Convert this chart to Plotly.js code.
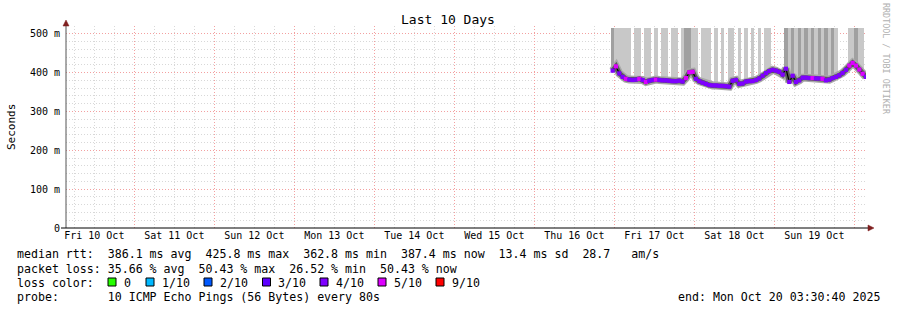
<!DOCTYPE html>
<html>
<head>
<meta charset="utf-8">
<script src="https://cdn.plot.ly/plotly-3.0.1.min.js"></script>
<style>html,body{margin:0;padding:0;background:#fff}#chart{width:897px;height:310px}</style>
</head>
<body>
<div id="chart"></div>
<script>
// ---- data (hourly samples, starting 2025-10-16 23:30) ----
const sampleStart = '2025-10-16T23:30:00';
const medianRtt = [405,416,398,389,384,382,381,382,384,381,376,379,381,382,381,380,380,379,378,378,
  379,377,386,401,402,384,378,374,371,368,367,367,366,366,365,364,379,381,371,372,
  377,378,378,381,385,392,399,404,407,405,402,395,410,376,392,376,380,387,387,386,
  386,385,385,384,380,382,386,389,393,399,407,418,425,418,408,397,389];
const lossTenths = [4,5,4,4,5,4,4,4,5,4,5,4,4,5,4,4,4,4,4,4,
  4,4,5,5,5,4,4,4,4,4,4,4,4,4,4,4,4,4,4,4,
  4,4,4,4,4,4,4,4,4,4,4,4,4,4,4,4,4,4,4,4,
  5,4,4,5,4,4,4,4,4,4,4,5,5,5,5,5,4];
// 0 = no high pings, 1 = one high ping (light smoke to top), 2 = several (dark smoke to top)
const highSmoke = [2,1,1,1,1,1,0,1,1,0,1,1,0,1,0,1,1,0,1,1,
  0,1,2,2,1,1,0,1,1,1,0,1,0,1,0,1,1,0,1,0,
  1,0,1,0,1,0,1,1,0,0,0,0,2,1,2,1,2,1,2,1,
  2,1,2,1,2,1,2,1,0,0,0,1,1,2,1,1,0];
const smokeTop = 516;
const yTickVals = [0,100,200,300,400,500];
const yTickText = ['0','100 m','200 m','300 m','400 m','500 m'];
const lossLabels = ['0','1/10','2/10','3/10','4/10','5/10','9/10'];
const lossColors = ['#26ff00','#00b8ff','#0059ff','#5e00ff','#7e00ff','#dd00ff','#ff0000'];
const statLines = [
  'median rtt:  386.1 ms avg  425.8 ms max  362.8 ms min  387.4 ms now  13.4 ms sd  28.7   am/s',
  'packet loss: 35.66 % avg  50.43 % max  26.52 % min  50.43 % now'
];
const probeText = 'probe:       10 ICMP Echo Pings (56 Bytes) every 80s';
const endText = 'end: Mon Oct 20 03:30:40 2025';

// ---- build ----
const HOUR = 3600000;
const t0 = new Date(sampleStart + 'Z').getTime();
const times = medianRtt.map((_, i) => new Date(t0 + i * HOUR).toISOString().slice(0, 19).replace('T', ' '));
function colorForLoss(l) {
  if (l <= 0) return lossColors[0];
  if (l <= 5) return lossColors[l];
  return lossColors[6];
}
const markerColors = lossTenths.map(colorForLoss);
const lightY = medianRtt.map((m, i) => highSmoke[i] >= 1 ? smokeTop - m : null);
const darkY = medianRtt.map((m, i) => highSmoke[i] >= 2 ? smokeTop - m : null);

const L = 66, R = 866, T = 26, B = 228;
const PX = x => (x - L) / (R - L);
const PY = y => (B - y) / (B - T);
const mono = 'DejaVu Sans Mono, monospace';

const traces = [
  {type:'bar', x:times, y:lightY, base:medianRtt, width:HOUR, marker:{color:'#c8c8c8', line:{width:0}}, hoverinfo:'skip'},
  {type:'bar', x:times, y:darkY, base:medianRtt, width:HOUR, marker:{color:'#a0a0a0', line:{width:0}}, hoverinfo:'skip'},
  {type:'scatter', mode:'lines', x:times, y:medianRtt, line:{color:'#a8a8a8', width:8}, hoverinfo:'skip'},
  {type:'scatter', mode:'lines', x:times, y:medianRtt, line:{color:'#5a5a5a', width:5}, hoverinfo:'skip'},
  {type:'scatter', mode:'lines', x:times, y:medianRtt, line:{color:'#000000', width:1.2}, hoverinfo:'skip'},
  {type:'scatter', mode:'markers', x:times, y:medianRtt, marker:{symbol:'square', size:4.2, color:markerColors, line:{width:0}}, hoverinfo:'skip'}
];

const ann = [];
function txt(text, x, y, opts) {
  ann.push(Object.assign({text:text, x:PX(x), y:PY(y), xref:'paper', yref:'paper', showarrow:false,
    xanchor:'left', yanchor:'middle', borderpad:0, font:{family:mono, size:11.6, color:'#000'}}, opts || {}));
}
txt('Last 10 Days', 448, 19.5, {xanchor:'center', font:{family:mono, size:13, color:'#000'}});
txt('Seconds', 11, 127, {xanchor:'center', textangle:-90, font:{family:mono, size:11, color:'#000'}});
txt('RRDTOOL / TOBI OETIKER', 886, 59, {xanchor:'center', textangle:90, font:{family:mono, size:8.4, color:'#b0b0b0'}});
txt(statLines[0], 16, 254.5);
txt(statLines[1], 16, 268.5);
txt('loss color:', 16, 282.5);
txt(probeText, 16, 296.5);
txt(endText, 881, 296.5, {xanchor:'right'});

const boxX = [108, 146, 204, 262.5, 320, 378, 436];
const shapes = [];
boxX.forEach((bx, i) => {
  shapes.push({type:'rect', xref:'paper', yref:'paper', x0:PX(bx), x1:PX(bx + 8), y0:PY(286), y1:PY(278),
    fillcolor:lossColors[i], line:{color:'#000', width:1}});
  txt(lossLabels[i], bx + 14.5, 282.5);
});
// axis lines and arrows
shapes.push({type:'line', xref:'paper', yref:'paper', x0:PX(66), x1:PX(66), y0:PY(228), y1:PY(24), line:{color:'#555', width:1}});
shapes.push({type:'line', xref:'paper', yref:'paper', x0:PX(61), x1:PX(869), y0:PY(228), y1:PY(228), line:{color:'#000', width:1}});
shapes.push({type:'path', xref:'paper', yref:'paper',
  path:`M ${PX(63)} ${PY(26)} L ${PX(69)} ${PY(26)} L ${PX(66)} ${PY(20)} Z`, fillcolor:'#7f1f1f', line:{color:'#7f1f1f', width:0.5}});
shapes.push({type:'path', xref:'paper', yref:'paper',
  path:`M ${PX(868)} ${PY(225)} L ${PX(868)} ${PY(231)} L ${PX(874)} ${PY(228)} Z`, fillcolor:'#7f1f1f', line:{color:'#7f1f1f', width:0.5}});

const layout = {
  width:897, height:310,
  margin:{l:L, r:897 - R, t:T, b:310 - B, pad:0},
  paper_bgcolor:'#ffffff', plot_bgcolor:'#ffffff',
  showlegend:false, barmode:'overlay', bargap:0,
  xaxis:{type:'date', range:['2025-10-10 03:30:40','2025-10-20 03:30:40'], autorange:false,
    tick0:'2025-10-10 00:00:00', dtick:86400000, ticklabelmode:'period', tickformat:'%a %d %b',
    showgrid:true, gridcolor:'#f3a0a0', griddash:'1px,2px', gridwidth:1,
    minor:{dtick:21600000, showgrid:true, gridcolor:'#d8d8d8', griddash:'1px,2px', gridwidth:1},
    showline:false, zeroline:false, ticks:'', ticklen:0,
    tickfont:{family:mono, size:10, color:'#000'}, automargin:false, fixedrange:true},
  yaxis:{range:[0, 520], autorange:false, tickvals:yTickVals, ticktext:yTickText,
    showgrid:true, gridcolor:'#f3a0a0', griddash:'1px,2px', gridwidth:1,
    minor:{dtick:20, showgrid:true, gridcolor:'#d8d8d8', griddash:'1px,2px', gridwidth:1},
    showline:false, zeroline:false, ticks:'', ticklabelstandoff:5,
    tickfont:{family:mono, size:10, color:'#000'}, automargin:false, fixedrange:true},
  annotations:ann, shapes:shapes, hovermode:false
};
Plotly.newPlot('chart', traces, layout, {displayModeBar:false, staticPlot:true});
</script>
</body>
</html>
